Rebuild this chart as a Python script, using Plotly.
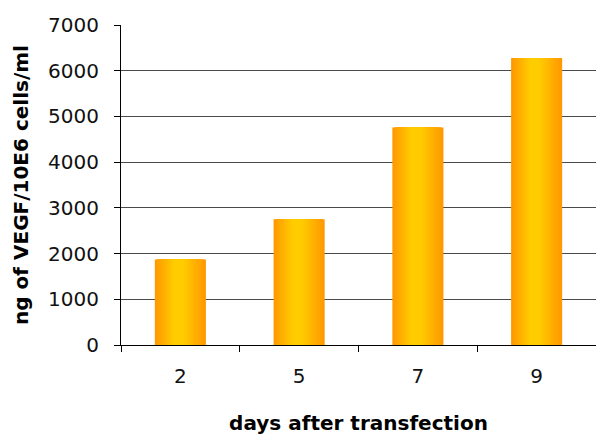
import plotly.graph_objects as go

days = ["2", "5", "7", "9"]
vegf = [1870, 2750, 4760, 6280]
y_ticks = [0, 1000, 2000, 3000, 4000, 5000, 6000, 7000]

fig = go.Figure()

# gradient bars: nested overlay layers from orange edges to yellow core
N = 14
bar_w = 0.43
L = -bar_w / 2
R = bar_w / 2
Lc = -0.06   # left edge of yellow core (relative to category center)
Rc = 0.03    # right edge of yellow core
c_edge = (255, 153, 0)
c_core = (255, 204, 0)
for i in range(N + 1):
    t = i / N
    left = L + t * (Lc - L)
    right = R - t * (R - Rc)
    col = tuple(int(round(c_edge[k] + t * (c_core[k] - c_edge[k]))) for k in range(3))
    fig.add_trace(go.Bar(
        x=days, y=vegf,
        width=[right - left] * len(days),
        offset=[left] * len(days),
        marker=dict(color="rgb(%d,%d,%d)" % col, line=dict(width=0)),
        showlegend=False, hoverinfo="skip",
    ))

font_family = "DejaVu Sans"
fig.update_layout(
    barmode="overlay",
    width=596, height=435,
    margin=dict(l=121, r=0, t=25, b=90),
    paper_bgcolor="white", plot_bgcolor="white",
    font=dict(family=font_family, color="black"),
    xaxis=dict(
        type="category",
        showline=True, linecolor="black", linewidth=1,
        ticks="outside", tickson="boundaries", ticklen=6, tickcolor="black",
        tickfont=dict(size=20, family=font_family, color="#111111"),
        ticklabelstandoff=13,
        title=dict(text="<b>days after transfection</b>",
                   font=dict(size=20, family=font_family), standoff=28),
        showgrid=False, automargin=False,
        range=[-0.5, 3.5],
    ),
    yaxis=dict(
        range=[0, 7000],
        tickvals=y_ticks,
        showline=True, linecolor="black", linewidth=1,
        ticks="outside", ticklen=6, tickcolor="black",
        tickfont=dict(size=20, family=font_family, color="#111111"),
        ticklabelstandoff=11,
        showgrid=True, gridcolor="#4a4a4a", gridwidth=1,
        zeroline=False,
        title=dict(text="<b>ng of VEGF/10E6 cells/ml</b>",
                   font=dict(size=20, family=font_family), standoff=14),
        automargin=False,
    ),
)

fig.write_html("out.html")
